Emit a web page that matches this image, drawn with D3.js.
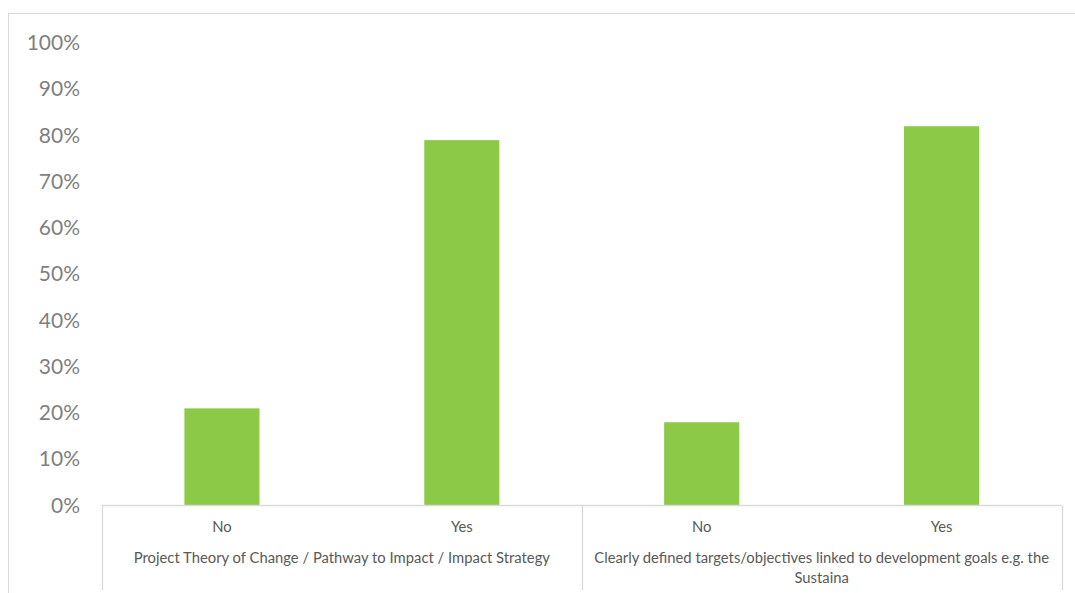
<!DOCTYPE html>
<html>
<head>
<meta charset="utf-8">
<script src="https://cdn.jsdelivr.net/npm/d3@7"></script>
<style>
  html, body { margin: 0; padding: 0; background: #ffffff; }
  svg { display: block; }
  text { font-family: Lato, "Open Sans", sans-serif; }
</style>
</head>
<body>
<svg id="chart" width="1075" height="593"></svg>
<script>
// Survey answers, grouped by question
const groups = [
  "Project Theory of Change / Pathway to Impact / Impact Strategy",
  "Clearly defined targets/objectives linked to development goals e.g. the Sustaina"
];
const answers = ["No", "Yes"];
const shares = [0.21, 0.79, 0.18, 0.82];   // order: group 1 No, Yes, group 2 No, Yes
const yTicks = [0, 0.1, 0.2, 0.3, 0.4, 0.5, 0.6, 0.7, 0.8, 0.9, 1.0];

const rows = [];
groups.forEach((g, gi) => answers.forEach((a, ai) => {
  rows.push({ key: gi + "|" + a, group: g, gi, answer: a, value: shares[gi * answers.length + ai] });
}));

const svg = d3.select("#chart");
const W = 1075, H = 593;
const plot = { left: 102, right: 1061.5, top: 43, bottom: 505.5 };

// outer chart frame
svg.append("rect")
  .attr("x", 8.5).attr("y", 13.5)
  .attr("width", W - 8.5 + 1).attr("height", H)
  .attr("fill", "#ffffff").attr("stroke", "#d9d9d9").attr("stroke-width", 1);

const x = d3.scaleBand()
  .domain(rows.map(d => d.key))
  .range([plot.left, plot.right])
  .paddingInner(0.687).paddingOuter(0.3435);

const y = d3.scaleLinear().domain([0, 1]).range([plot.bottom, plot.top]);

// y axis labels only (no line, no ticks)
const yAxis = d3.axisLeft(y).tickValues(yTicks).tickFormat(d3.format(".0%")).tickSize(0).tickPadding(0);
const yg = svg.append("g").attr("transform", "translate(80,0)").call(yAxis);
yg.select(".domain").remove();
yg.selectAll("text")
  .attr("fill", "#7f7f7f")
  .style("font-size", "21px")
  .style("font-family", "Lato, sans-serif");

// bars
svg.append("g").selectAll("rect")
  .data(rows)
  .join("rect")
  .attr("x", d => x(d.key))
  .attr("y", d => y(d.value))
  .attr("width", x.bandwidth())
  .attr("height", d => y(0) - y(d.value))
  .attr("fill", "#8cc947");

// category axis: baseline plus group dividers
const axisColor = "#d9d9d9";
const step = x.step();
const groupEdges = [plot.left];
groups.forEach((g, gi) => groupEdges.push(plot.left + step * answers.length * (gi + 1)));

svg.append("line")
  .attr("x1", plot.left).attr("x2", plot.right)
  .attr("y1", plot.bottom).attr("y2", plot.bottom)
  .attr("stroke", axisColor).attr("stroke-width", 1.3);

svg.append("g").selectAll("line")
  .data(groupEdges)
  .join("line")
  .attr("x1", d => Math.round(d) + 0.5).attr("x2", d => Math.round(d) + 0.5)
  .attr("y1", plot.bottom).attr("y2", 590)
  .attr("stroke", axisColor).attr("stroke-width", 1.3);

// answer labels
svg.append("g").selectAll("text")
  .data(rows)
  .join("text")
  .attr("x", d => x(d.key) + x.bandwidth() / 2)
  .attr("y", 532)
  .attr("text-anchor", "middle")
  .attr("fill", "#595959")
  .style("font-size", "14.8px")
  .text(d => d.answer);

// group labels, wrapped to the group width
const gLabels = svg.append("g");
groups.forEach((g, gi) => {
  const cx = (groupEdges[gi] + groupEdges[gi + 1]) / 2;
  const maxW = groupEdges[gi + 1] - groupEdges[gi] - 12;
  const t = gLabels.append("text")
    .attr("x", cx).attr("y", 563)
    .attr("text-anchor", "middle")
    .attr("fill", "#595959")
    .style("font-size", "14.8px");
  const words = g.split(" ");
  let line = [];
  let ts = t.append("tspan").attr("x", cx).attr("dy", 0);
  words.forEach(w => {
    line.push(w);
    ts.text(line.join(" "));
    if (ts.node().getComputedTextLength() > maxW && line.length > 1) {
      line.pop();
      ts.text(line.join(" "));
      line = [w];
      ts = t.append("tspan").attr("x", cx).attr("dy", 20).text(w);
    }
  });
});
</script>
</body>
</html>
